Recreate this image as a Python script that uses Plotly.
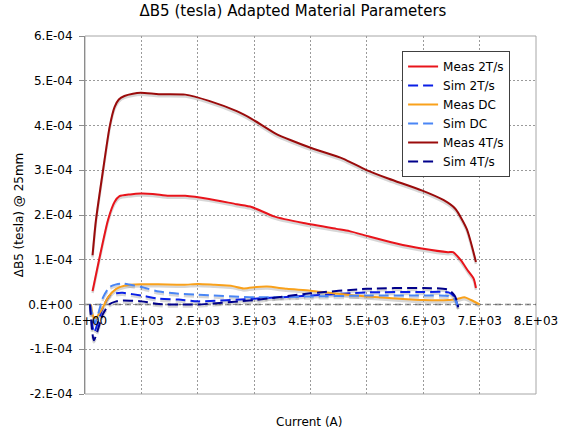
import plotly.graph_objects as go

# ---------------- data ----------------
meas2_x = [134, 250, 408, 524, 612, 800, 990, 1200, 1486, 1777, 2200, 2692, 2955, 3350,
           3875, 4458, 4691, 5041, 5507, 5973, 6440, 6528, 6673, 6790, 6894, 6935]
meas2_y = [0.30, 1.00, 1.89, 2.29, 2.42, 2.46, 2.48, 2.47, 2.43, 2.43, 2.36, 2.24, 2.18, 1.97,
           1.82, 1.69, 1.64, 1.52, 1.37, 1.25, 1.17, 1.17, 0.98, 0.76, 0.58, 0.37]

meas4_x = [134, 192, 320, 437, 524, 600, 699, 850, 990, 1311, 1777, 2200, 2692, 2955, 3380,
           3654, 4050, 4574, 4983, 5390, 5973, 6364, 6568, 6771, 6935]
meas4_y = [1.10, 1.86, 3.00, 3.97, 4.41, 4.58, 4.66, 4.71, 4.73, 4.70, 4.69, 4.55, 4.32, 4.15, 3.82,
           3.67, 3.48, 3.26, 3.01, 2.81, 2.55, 2.33, 2.14, 1.69, 0.95]

measdc_x = [105, 150, 190, 290, 408, 553, 699, 990, 1300, 1748, 2010, 2300, 2587, 2815, 3042,
            3230, 3580, 4000, 4400, 5000, 5565, 6000, 6440, 6614, 6730, 6847, 7000]
measdc_y = [0.00, -0.28, -0.30, -0.13, 0.16, 0.35, 0.42, 0.45, 0.45, 0.44, 0.46, 0.44, 0.42, 0.36, 0.39,
            0.40, 0.35, 0.31, 0.25, 0.18, 0.13, 0.10, 0.10, 0.13, 0.16, 0.10, 0.00]

simdc_x = [90, 175, 320, 437, 553, 670, 1000, 1311, 1661, 2000, 3000, 4000, 5000, 6000, 6450, 6556, 6603, 6620]
simdc_y = [0.00, -0.42, 0.16, 0.39, 0.45, 0.47, 0.39, 0.29, 0.24, 0.22, 0.16, 0.18, 0.20, 0.20, 0.19, 0.12, 0.00, -0.06]

sim2_x = [90, 160, 320, 437, 553, 670, 1000, 1311, 1661, 2000, 3000, 4000, 5000, 6000, 6450, 6556, 6603, 6620]
sim2_y = [0.00, -0.62, -0.06, 0.20, 0.25, 0.26, 0.20, 0.13, 0.11, 0.07, 0.13, 0.20, 0.27, 0.28, 0.27, 0.17, 0.00, -0.06]

sim4_x = [90, 157, 320, 437, 553, 670, 1000, 1311, 1661, 2000, 3000, 4000, 5000, 6000, 6450, 6556, 6603, 6620]
sim4_y = [0.00, -0.80, -0.21, 0.01, 0.07, 0.09, 0.07, 0.01, 0.00, 0.00, 0.10, 0.25, 0.35, 0.37, 0.33, 0.20, 0.05, -0.06]

SCALE = 1e-4  # values above are in units of 1E-04 tesla

x_tickvals = [0, 1000, 2000, 3000, 4000, 5000, 6000, 7000, 8000]
x_ticktext = ["0.E+00", "1.E+03", "2.E+03", "3.E+03", "4.E+03", "5.E+03", "6.E+03", "7.E+03", "8.E+03"]
y_tickvals = [-2e-4, -1e-4, 0, 1e-4, 2e-4, 3e-4, 4e-4, 5e-4, 6e-4]
y_ticktext = ["-2.E-04", "-1.E-04", "0.E+00", "1.E-04", "2.E-04", "3.E-04", "4.E-04", "5.E-04", "6.E-04"]

# ---------------- styling ----------------
FONT = "DejaVu Sans"
W, H = 570, 436
M = dict(l=85, r=27, t=36, b=42)
XR = [0, 8000]
YR = [-2e-4, 6e-4]
plot_h = H - M["t"] - M["b"]
plot_w = W - M["l"] - M["r"]
shadow_dy = 2.0 * (YR[1] - YR[0]) / plot_h  # 2px drop shadow

series = [
    ("Meas 2T/s", meas2_x, meas2_y, "#E8141B", "solid"),
    ("Sim 2T/s", sim2_x, sim2_y, "#0a1fe6", "10px,5px"),
    ("Meas DC", measdc_x, measdc_y, "#F9A11B", "solid"),
    ("Sim DC", simdc_x, simdc_y, "#4a86f5", "10px,5px"),
    ("Meas 4T/s", meas4_x, meas4_y, "#9A0B0B", "solid"),
    ("Sim 4T/s", sim4_x, sim4_y, "#00008B", "10px,5px"),
]

fig = go.Figure()

# drop shadows first (beneath)
for name, xs, ys, col, dash in series:
    fig.add_trace(go.Scatter(
        x=xs, y=[v * SCALE - shadow_dy for v in ys], mode="lines",
        line=dict(color="rgba(140,140,140,0.35)", width=2.5, dash=dash, shape="spline", smoothing=0.6),
        showlegend=False, hoverinfo="skip"))

for name, xs, ys, col, dash in series:
    fig.add_trace(go.Scatter(
        x=xs, y=[v * SCALE for v in ys], mode="lines", name=name,
        line=dict(color=col, width=2, dash=dash, shape="spline", smoothing=0.6)))

fig.update_layout(
    width=W, height=H, margin=M,
    paper_bgcolor="white", plot_bgcolor="white",
    font=dict(family=FONT, size=12, color="black"),
    title=dict(text="ΔB5 (tesla) Adapted Material Parameters", x=0.514, xanchor="center",
               y=1 - 11 / H, yanchor="middle", font=dict(family=FONT, size=15, color="black")),
    legend=dict(x=(407 - M["l"]) / plot_w, y=(H - M["b"] - 51) / plot_h,
                xanchor="left", yanchor="top", bgcolor="white", bordercolor="#404040",
                borderwidth=1, font=dict(family=FONT, size=12, color="black"),
                tracegroupgap=0, itemwidth=30),
    showlegend=True,
)

fig.update_xaxes(
    range=XR, tickvals=x_tickvals, ticktext=x_ticktext,
    anchor="free", position=(0 - YR[0]) / (YR[1] - YR[0]),
    showline=False, zeroline=False, ticks="", ticklabelstandoff=7,
    showgrid=True, gridcolor="#9a9a9a", gridwidth=1, griddash="2px,2px",
    tickfont=dict(family=FONT, size=12, color="black"),
)
fig.update_yaxes(
    range=YR, tickvals=y_tickvals, ticktext=y_ticktext,
    showline=True, linecolor="#8c8c8c", linewidth=1,
    ticks="outside", ticklen=5, tickcolor="#8c8c8c", ticklabelstandoff=4,
    zeroline=False, showgrid=True, gridcolor="#9a9a9a", gridwidth=1, griddash="2px,2px",
    tickfont=dict(family=FONT, size=12, color="black"),
    title=dict(text="ΔB5 (tesla) @ 25mm", font=dict(family=FONT, size=12, color="black"), standoff=2),
    automargin=False,
)

# plot frame and dashed zero line
fig.add_shape(type="rect", xref="paper", yref="paper", x0=0, x1=1, y0=0, y1=1,
              line=dict(color="#a6a6a6", width=1), layer="below")
fig.add_shape(type="line", xref="paper", yref="y", x0=0, x1=1, y0=0, y1=0,
              line=dict(color="#6e6e6e", width=1.5, dash="6px,4px"), layer="below")

# x-axis title (axis itself sits at y = 0)
fig.add_annotation(text="Current (A)", xref="paper", yref="paper",
                   x=(312 - M["l"]) / plot_w, y=-(422 - (H - M["b"])) / plot_h,
                   xanchor="center", yanchor="middle", showarrow=False,
                   font=dict(family=FONT, size=12, color="black"))

fig.write_html("out.html")
